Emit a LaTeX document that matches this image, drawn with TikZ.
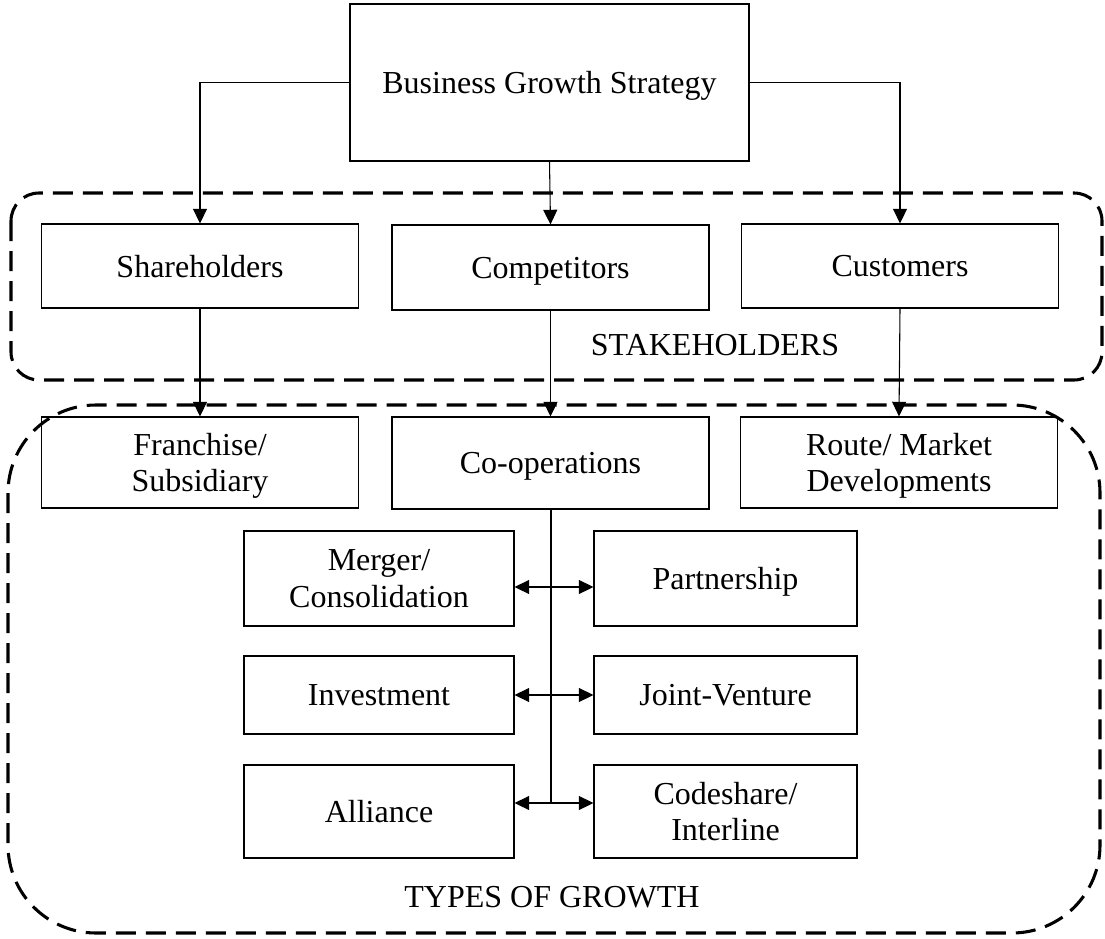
\documentclass[tikz,border=0pt]{standalone}
\usepackage{fontspec}
\setmainfont{Liberation Serif}
\usetikzlibrary{arrows.meta}

\begin{document}
\begin{tikzpicture}[x=0.75pt, y=-0.75pt, >={Triangle[length=11pt,width=10.5pt]},
  box/.style={draw, line width=0.8pt, inner sep=0pt, align=center, text depth=0pt,
    font=\fontsize{24}{27.5}\selectfont},
  wide/.style={box, minimum width=237.75pt},
  grpline/.style={line width=2.3pt, dash pattern=on 15pt off 7.5pt},
  link/.style={line width=0.8pt}]

\useasboundingbox (0,0) rectangle (1105,938);

%%% Group frames
\draw[grpline, rounded corners=21pt] (11,193) rectangle (1102,380);
\draw[grpline, rounded corners=66pt] (8,405) rectangle (1100,933);

\node[font=\fontsize{24}{27.5}\selectfont] (lblstake) at (715,345) {STAKEHOLDERS};
\node[font=\fontsize{24}{27.5}\selectfont] (lbltypes) at (552,897) {TYPES OF GROWTH};

%%% Top
\node[box, minimum width=299.25pt, minimum height=117.75pt] (top) at (549.5,82.5) {Business Growth Strategy};

%%% Stakeholders row
\node[wide, minimum height=63pt] (share) at (200,266) {Shareholders};
\node[wide, minimum height=63.75pt] (comp) at (550.5,267.5) {Competitors};
\node[wide, minimum height=63pt] (cust) at (900,266) {Customers};

%%% Types of growth row
\node[wide, minimum height=68.25pt] (fran) at (200,462.5) {Franchise/\\Subsidiary};
\node[wide, minimum height=69pt] (coop) at (550.5,463) {Co-operations};
\node[wide, minimum height=68.25pt] (route) at (899,462.5) {Route/ Market\\Developments};

% co-operation forms
\node[box, minimum width=202.5pt, minimum height=71.25pt] (merger) at (379,578.5) {Merger/\\Consolidation};
\node[box, minimum width=197.25pt, minimum height=71.25pt] (partner) at (725.5,578.5) {Partnership};
\node[box, minimum width=202.5pt, minimum height=58.5pt] (invest) at (379,695) {Investment};
\node[box, minimum width=197.25pt, minimum height=58.5pt] (joint) at (725.5,695) {Joint-Venture};
\node[box, minimum width=202.5pt, minimum height=69.75pt] (alliance) at (379,811.5) {Alliance};
\node[box, minimum width=197.25pt, minimum height=69.75pt] (codeshare) at (725.5,811.5) {Codeshare/\\Interline};

\coordinate (j1) at (551,587);
\coordinate (j2) at (551,695);
\coordinate (j3) at (551,803);

%%% Connectors
\draw[link, ->] (top.west) -| (share.north);
\draw[link, ->] (top.south) -- (comp.north);
\draw[link, ->] (top.east) -| (cust.north);

\draw[link, ->] (share.south) -- (fran.north);
\draw[link, ->] (comp.south) -- (coop.north);
\draw[link, ->] (cust.south) -- (route.north);

\draw[link] (coop.south -| j1) -- (j3);
\draw[link, <->] (merger.east |- j1) -- (partner.west |- j1);
\draw[link, <->] (invest.east |- j2) -- (joint.west |- j2);
\draw[link, <->] (alliance.east |- j3) -- (codeshare.west |- j3);

\end{tikzpicture}
\end{document}
